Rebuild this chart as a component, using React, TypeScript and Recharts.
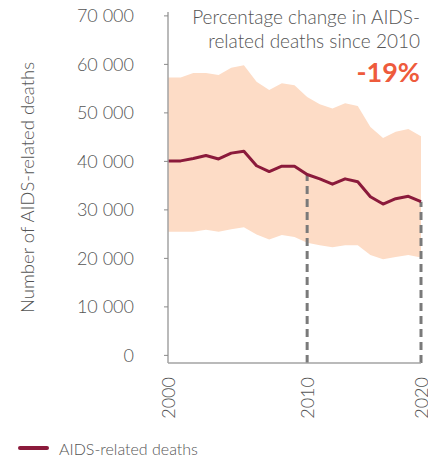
import { ComposedChart, Area, Line, XAxis, YAxis, ReferenceLine, Legend } from 'recharts';

// values
const years = [2000, 2001, 2002, 2003, 2004, 2005, 2006, 2007, 2008, 2009, 2010,
  2011, 2012, 2013, 2014, 2015, 2016, 2017, 2018, 2019, 2020];
const deaths = [40100, 40100, 40600, 41200, 40500, 41700, 42100, 39100, 37900, 39000, 39000,
  37300, 36400, 35300, 36400, 35800, 32700, 31200, 32300, 32800, 31700];
const upper = [57300, 57300, 58200, 58200, 57800, 59300, 59800, 56400, 54700, 56100, 55700,
  53300, 51800, 50900, 52000, 51400, 47100, 44800, 46100, 46700, 45200];
const lower = [25500, 25500, 25500, 25900, 25500, 26000, 26400, 24900, 23900, 24800, 24400,
  23200, 22700, 22300, 22700, 22700, 20700, 19800, 20300, 20700, 20200];

const yTicks = [0, 10000, 20000, 30000, 40000, 50000, 60000, 70000];
// the reference puts its "2010" mark on the 12th point
const xTicks = [2000, 2011, 2020];
const xTickLabels = ['2000', '2010', '2020'];
const markerYears = [2011, 2020];

const yMin = -1570;
const yMax = 70800;

const data = years.map((year, i) => ({
  year,
  deaths: deaths[i],
  range: [lower[i], upper[i]],
}));

const font = 'Lato, "Noto Sans", sans-serif';
const grey = '#555';

const fmt = (v: number) => String(v).replace(/\B(?=(\d{3})+(?!\d))/g, ' ');

const YearTick = ({ x, y, payload }: any) => (
  <text
    x={x}
    y={y}
    dy={6.5}
    transform={`rotate(-90, ${x}, ${y})`}
    textAnchor="end"
    fill={grey}
    fontSize={18}
    fontWeight={300}
    fontFamily={font}
  >
    {xTickLabels[xTicks.indexOf(payload.value)]}
  </text>
);

const renderLegend = ({ payload }: any) => (
  <div style={{ display: 'flex', alignItems: 'center', paddingLeft: 10, height: 20 }}>
    {(payload || []).filter((p: any) => p.type !== 'none').map((p: any) => (
      <div key={p.value} style={{ display: 'flex', alignItems: 'center' }}>
        <span style={{ display: 'inline-block', width: 31, height: 4, background: p.color, borderRadius: 2, marginRight: 10 }} />
        <span style={{ fontSize: 16, fontWeight: 300, color: grey, fontFamily: font }}>{p.value}</span>
      </div>
    ))}
  </div>
);

export default function App() {
  return (
    <div style={{ position: 'relative', width: 428, height: 458, marginTop: -8 }}>
      <ComposedChart width={428} height={458} data={data} margin={{ top: 12, right: 15, left: 0, bottom: 0 }}>
        <XAxis
          dataKey="year"
          type="number"
          domain={[2000, 2020]}
          ticks={xTicks}
          tick={<YearTick />}
          tickLine={false}
          tickSize={0}
          tickMargin={14}
          height={75}
          interval={0}
          axisLine={{ stroke: '#a3a3a3', strokeWidth: 1.5 }}
        />
        <YAxis
          type="number"
          domain={[yMin, yMax]}
          ticks={yTicks}
          tickFormatter={fmt}
          width={160}
          interval={0}
          tickSize={4}
          tickMargin={30}
          tick={{ fill: grey, fontSize: 18, fontWeight: 300, fontFamily: font }}
          tickLine={{ stroke: '#8a8a8a' }}
          axisLine={{ stroke: '#a3a3a3', strokeWidth: 1.5 }}
          label={{
            value: 'Number of AIDS-related deaths',
            angle: -90,
            position: 'insideLeft',
            offset: 19,
            fill: grey,
            fontSize: 18.5,
            fontWeight: 300,
            fontFamily: font,
            style: { textAnchor: 'middle' },
          }}
        />
        <Area
          dataKey="range"
          stroke="none"
          fill="#fddcc6"
          fillOpacity={1}
          legendType="none"
          isAnimationActive={false}
        />
        {markerYears.map((yr) => (
          <ReferenceLine
            key={yr}
            segment={[{ x: yr, y: yMin }, { x: yr, y: deaths[years.indexOf(yr)] }]}
            stroke="#7a7a7a"
            strokeWidth={3}
            strokeDasharray="8 5"
          />
        ))}
        <Line
          dataKey="deaths"
          name="AIDS-related deaths"
          stroke="#8b1a3b"
          strokeWidth={3}
          dot={false}
          strokeLinejoin="round"
          legendType="plainline"
          isAnimationActive={false}
        />
        <Legend verticalAlign="bottom" align="left" content={renderLegend} />
      </ComposedChart>
      <div
        style={{
          position: 'absolute',
          right: 16,
          top: 5,
          textAlign: 'right',
          fontFamily: font,
          fontWeight: 300,
          color: grey,
          fontSize: 19,
          lineHeight: '24px',
        }}
      >
        <div>Percentage change in AIDS-</div>
        <div>related deaths since 2010</div>
        <div style={{ color: '#ee5b3c', fontWeight: 700, fontSize: 27, lineHeight: '34px', marginTop: 2 }}>-19%</div>
      </div>
    </div>
  );
}
